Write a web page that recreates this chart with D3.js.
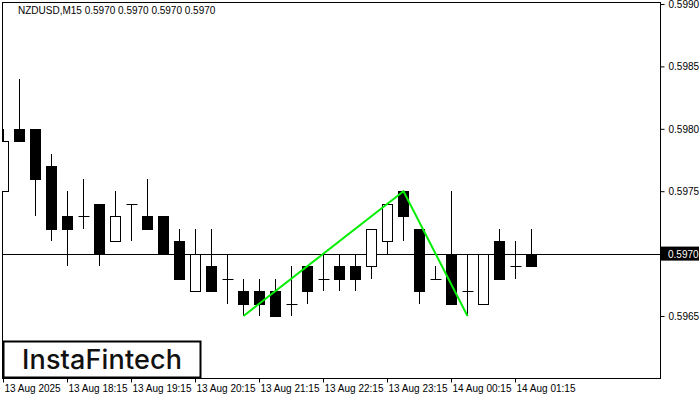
<!DOCTYPE html>
<html><head><meta charset="utf-8">
<script src="https://cdn.jsdelivr.net/npm/d3@7"></script>
<style>body{margin:0;background:#fff}</style></head>
<body><svg id="c" width="700" height="400"></svg>
<script>
const opens  = [0.5975,0.5980,0.5980,0.5977,0.5973,0.5973,0.5974,0.5971,0.5974,0.5973,0.5973,0.5971,0.5967,0.5969,0.5968,0.5967,0.5967,0.5967,0.5966,0.5969,0.5968,0.5969,0.5969,0.5969,0.5971,0.5975,0.5972,0.5968,0.5970,0.5967,0.5966,0.5971,0.5969,0.5970];
const highs  = [0.5980,0.5984,0.5980,0.5978,0.5975,0.5976,0.5974,0.5975,0.5974,0.5976,0.5973,0.5972,0.5972,0.5972,0.5970,0.5968,0.5968,0.5968,0.5969,0.5969,0.5970,0.5970,0.5970,0.5972,0.5974,0.5975,0.5972,0.5969,0.5975,0.5970,0.5970,0.5972,0.5971,0.5972];
const lows   = [0.5975,0.5979,0.5973,0.5971,0.5969,0.5972,0.5969,0.5971,0.5971,0.5972,0.5970,0.5968,0.5967,0.5967,0.5966,0.5965,0.5965,0.5965,0.5965,0.5966,0.5967,0.5967,0.5967,0.5968,0.5970,0.5971,0.5966,0.5968,0.5966,0.5965,0.5966,0.5968,0.5968,0.5969];
const closes = [0.5979,0.5979,0.5976,0.5972,0.5972,0.5973,0.5970,0.5973,0.5974,0.5972,0.5970,0.5968,0.5970,0.5967,0.5968,0.5966,0.5966,0.5965,0.5966,0.5967,0.5968,0.5968,0.5968,0.5972,0.5974,0.5973,0.5967,0.5968,0.5966,0.5967,0.5970,0.5968,0.5969,0.5969];
const priceTicks = [0.5965,0.5970,0.5975,0.5980,0.5985,0.5990];
const timeTickIdx = [0,4,8,12,16,20,24,28,32];
const timeTickLabels = ["13 Aug 2025","13 Aug 18:15","13 Aug 19:15","13 Aug 20:15","13 Aug 21:15","13 Aug 22:15","13 Aug 23:15","14 Aug 00:15","14 Aug 01:15"];
const patternIdx = [15,25,29];
const patternPrice = [0.5965,0.5975,0.5965];
const currentPrice = 0.5970;
const title = "NZDUSD,M15  0.5970 0.5970 0.5970 0.5970";

const FONT = "'Liberation Sans', Arial, sans-serif";
const svg = d3.select("#c");
const x = d3.scaleLinear().domain([0,1]).range([3,19]);
const y = d3.scaleLinear().domain([0.5965,0.5990]).range([316,4]);
const L=2,R=660,T=2,B=378;
const crisp=v=>Math.round(v)+0.5;

svg.append("rect").attr("x",L+0.5).attr("y",T+0.5).attr("width",R-L).attr("height",B-T).attr("fill","none").attr("stroke","#000");
svg.append("line").attr("x1",L).attr("x2",R).attr("y1",crisp(y(currentPrice))).attr("y2",crisp(y(currentPrice))).attr("stroke","#000");

const g = svg.append("g");
const n = opens.length;
for(let i=0;i<n;i++){
  const cx = crisp(x(i)), o=opens[i], c=closes[i];
  const yt=Math.round(y(Math.max(o,c))), yb=Math.round(y(Math.min(o,c)));
  g.append("line").attr("x1",cx).attr("x2",cx).attr("y1",Math.round(y(highs[i]))).attr("y2",Math.round(y(lows[i]))).attr("stroke","#000");
  if(yb-yt<1){
    g.append("line").attr("x1",cx-5).attr("x2",cx+6).attr("y1",crisp(y(o))).attr("y2",crisp(y(o))).attr("stroke","#000");
  } else {
    g.append("rect").attr("x",cx-5).attr("y",yt+0.5).attr("width",10).attr("height",yb-yt)
      .attr("fill",c>o?"#fff":"#000").attr("stroke","#000");
  }
}
svg.append("rect").attr("x",0).attr("y",0).attr("width",L).attr("height",400).attr("fill","#fff");

svg.append("path").attr("d",d3.line().x(d=>x(d[0])+0.5).y(d=>y(d[1]))(patternIdx.map((d,i)=>[d,patternPrice[i]])))
  .attr("fill","none").attr("stroke","#00ee00").attr("stroke-width",2);

const ya = svg.append("g").attr("transform",`translate(${R+0.5},0)`).call(d3.axisRight(y).tickValues(priceTicks).tickFormat(d3.format(".4f")).tickSize(4));
ya.select(".domain").remove();
ya.selectAll("line").attr("stroke","#000");
ya.selectAll("text").attr("font-family",FONT).attr("font-size",10).attr("fill","#000").attr("x",8);
svg.append("rect").attr("x",R+1).attr("y",y(currentPrice)-7).attr("width",38).attr("height",14).attr("fill","#000");
svg.append("text").attr("x",R+8).attr("y",y(currentPrice)+4).attr("fill","#fff").attr("font-size",10).attr("font-family",FONT).text(d3.format(".4f")(currentPrice));

const xa = svg.append("g").attr("transform",`translate(0,${B+0.5})`);
timeTickIdx.forEach((d,i)=>{
  const px=crisp(x(d));
  xa.append("line").attr("x1",px).attr("x2",px).attr("y1",0).attr("y2",4).attr("stroke","#000");
  xa.append("text").attr("x",px+1).attr("y",13).attr("font-size",10).attr("font-family",FONT).text(timeTickLabels[i]);
});

svg.append("text").attr("x",18).attr("y",14).attr("font-size",10).attr("font-family",FONT).attr("fill","#000").text(title);

svg.append("rect").attr("x",3.5).attr("y",341.5).attr("width",197).attr("height",36).attr("fill","#fff").attr("stroke","#000").attr("stroke-width",2);
svg.append("text").attr("x",22).attr("y",369).attr("font-size",27).attr("font-weight",500).attr("font-family","Inter, 'Open Sans', sans-serif").attr("fill","#111").attr("textLength",160).text("InstaFintech");
</script></body></html>
